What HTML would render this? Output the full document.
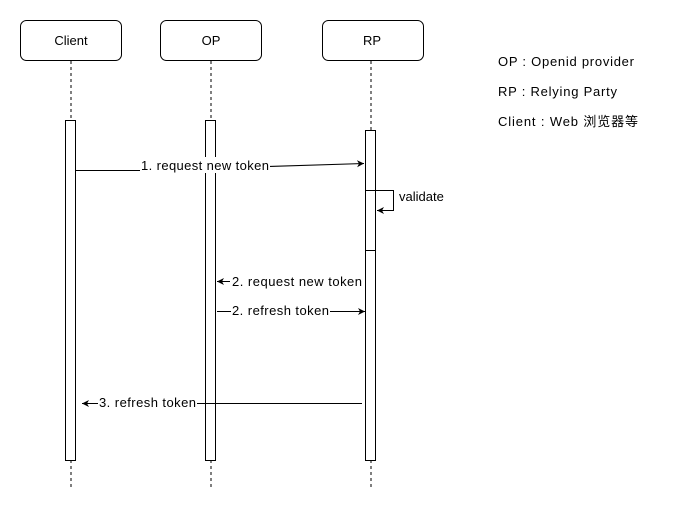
<!DOCTYPE html>
<html><head><meta charset="utf-8"><style>body{margin:0;background:#fff}</style></head><body>
<svg width="677" height="511" xmlns="http://www.w3.org/2000/svg" font-family="Liberation Sans, Noto Sans CJK SC, sans-serif" font-size="13">
<defs><marker id="a" markerWidth="8" markerHeight="8" refX="7" refY="4" orient="auto" markerUnits="userSpaceOnUse"><path d="M0,0.5 L7,4 L0,7.5 L2,4 z" fill="#000"/></marker></defs>
<g fill="#fff" stroke="#000">
<rect x="20.5" y="20.5" width="101" height="40" rx="6"/>
<rect x="160.5" y="20.5" width="101" height="40" rx="6"/>
<rect x="322.5" y="20.5" width="101" height="40" rx="6"/>
</g>
<g font-size="13" text-anchor="middle"><text x="71" y="45">Client</text><text x="211" y="45">OP</text><text x="372" y="45">RP</text></g>
<g stroke="#000" stroke-dasharray="3,3">
<line x1="71" y1="61" x2="71" y2="120"/><line x1="211" y1="61" x2="211" y2="120"/><line x1="371" y1="61" x2="371" y2="130"/>
<line x1="71" y1="460" x2="71" y2="490"/><line x1="211" y1="460" x2="211" y2="490"/><line x1="371" y1="460" x2="371" y2="490"/>
</g>
<g fill="#fff" stroke="#000">
<rect x="65.5" y="120.5" width="10" height="340"/>
<rect x="205.5" y="120.5" width="10" height="340"/>
<rect x="365.5" y="130.5" width="10" height="330"/>
<rect x="365.5" y="190.5" width="10" height="60"/>
</g>
<g stroke="#000" fill="none">
<path d="M76 170.5 L140 170.5 L364 163.5" marker-end="url(#a)"/>
<path d="M376 190.5 H393.5 V210.5 H377" marker-end="url(#a)"/>
<line x1="230" y1="281.5" x2="217" y2="281.5" marker-end="url(#a)"/>
<line x1="217" y1="311.5" x2="365" y2="311.5" marker-end="url(#a)"/>
<line x1="362" y1="403.5" x2="82" y2="403.5" marker-end="url(#a)"/>
</g>
<g font-size="13">
<rect x="140" y="157" width="130" height="16" fill="#fff"/><text x="141" y="170" textLength="128">1. request new token</text>
<text x="399" y="201">validate</text>
<rect x="231" y="273" width="133" height="16" fill="#fff"/><text x="232" y="286" textLength="130">2. request new token</text>
<rect x="231" y="303" width="99" height="16" fill="#fff"/><text x="232" y="315" textLength="97">2. refresh token</text>
<rect x="98" y="395" width="99" height="16" fill="#fff"/><text x="99" y="407" textLength="97">3. refresh token</text>
</g>
<g font-size="13"><text x="498" y="66" textLength="136">OP :  Openid provider</text><text x="498" y="96" textLength="119">RP :  Relying Party</text><text x="498" y="126" textLength="140">Client :  Web 浏览器等</text></g>
</svg>
</body></html>
